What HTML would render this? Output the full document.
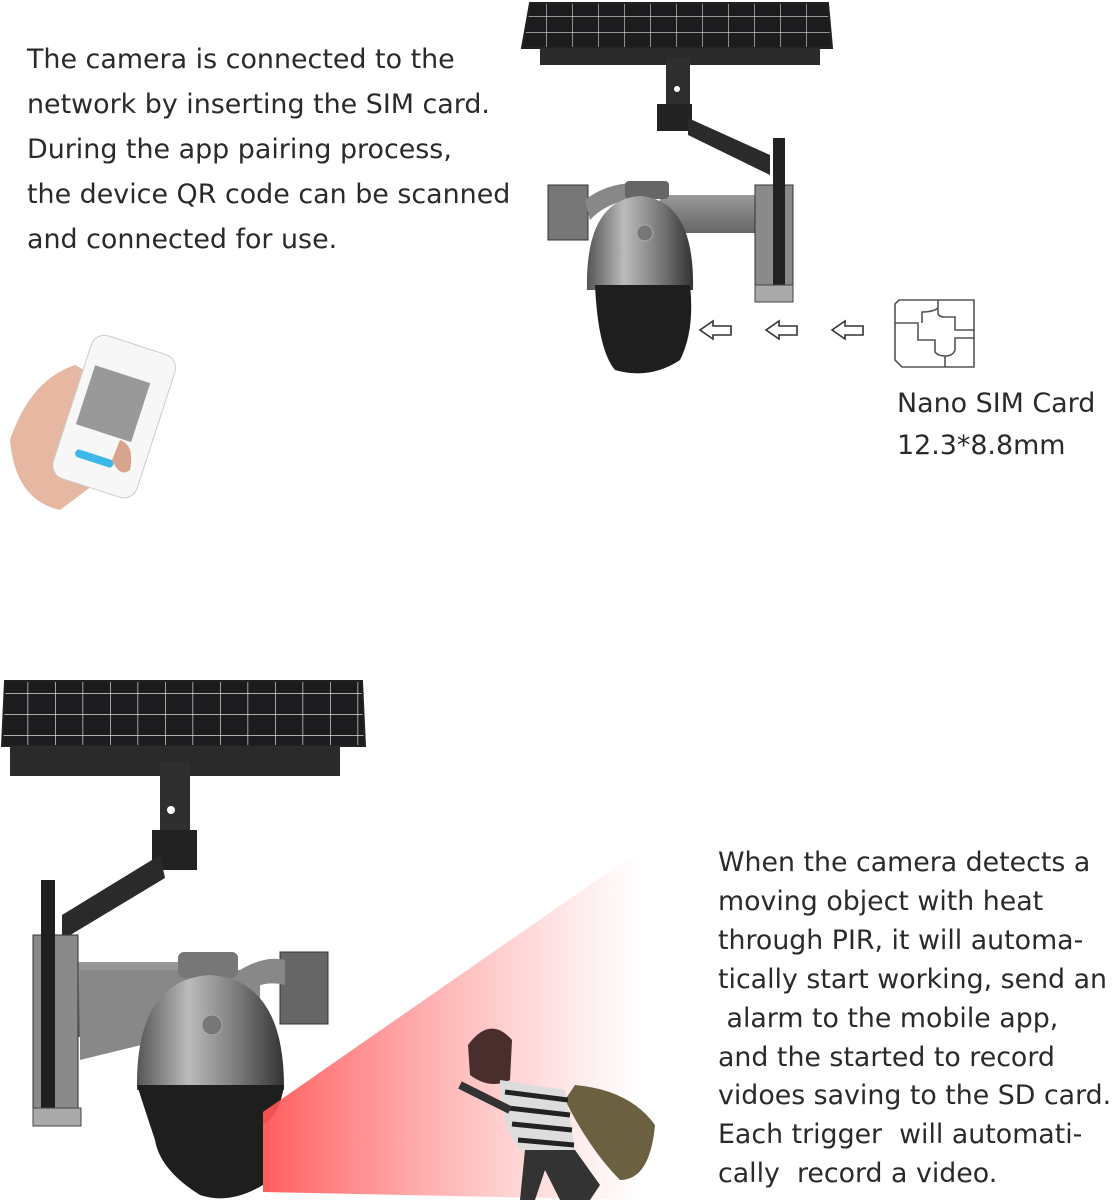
<!DOCTYPE html>
<html><head><meta charset="utf-8"><style>
body{margin:0;background:#fff;}
.w{position:relative;width:1114px;height:1200px;overflow:hidden;font-family:"DejaVu Sans","Liberation Sans",sans-serif;color:#2a2a2a;}
.t{position:absolute;font-size:26.9px;line-height:45px;white-space:nowrap;}
.t2{position:absolute;font-size:26.8px;line-height:38.9px;white-space:pre;}
svg{position:absolute;left:0;top:0;}
</style></head><body><div class="w">
<svg width="1114" height="1200" viewBox="0 0 1114 1200">
<defs>
<linearGradient id="red" x1="0" x2="1" y1="0" y2="0">
<stop offset="0" stop-color="#f55" stop-opacity="0.95"/>
<stop offset="1" stop-color="#f88" stop-opacity="0"/>
</linearGradient>
<linearGradient id="sil" x1="0" x2="1">
<stop offset="0" stop-color="#555"/><stop offset="0.35" stop-color="#bbb"/><stop offset="0.7" stop-color="#777"/><stop offset="1" stop-color="#333"/>
</linearGradient>
<linearGradient id="gr" x1="0" x2="0" y1="0" y2="1"><stop offset="0" stop-color="#999"/><stop offset="1" stop-color="#666"/></linearGradient>
<pattern id="cells" width="27.5" height="21" patternUnits="userSpaceOnUse"><rect width="27.5" height="21" fill="#1c1c1e"/><path d="M0 0V21M0 0H27.5" stroke="#ddd" stroke-width="1.4"/></pattern>
<pattern id="cells2" width="26" height="16" patternUnits="userSpaceOnUse"><rect width="26" height="16" fill="#1c1c1e"/><path d="M0 0V16M0 0H26" stroke="#ddd" stroke-width="1.2"/></pattern>
</defs>

<!-- TOP CAMERA -->
<polygon points="530,3 828,3 832,48 522,48" fill="url(#cells2)" stroke="#222" stroke-width="2"/>
<rect x="540" y="48" width="280" height="17" fill="#2a2a2a"/>
<rect x="666" y="58" width="24" height="50" fill="#2e2e2e"/><circle cx="677" cy="89" r="3" fill="#fff"/>
<rect x="657" y="104" width="35" height="27" fill="#222"/>
<polygon points="688,118 770,155 770,175 688,135" fill="#2a2a2a"/>
<rect x="660" y="195" width="100" height="38" fill="url(#gr)"/>
<rect x="755" y="185" width="38" height="115" fill="#8a8a8a" stroke="#333"/>
<rect x="773" y="138" width="12" height="152" fill="#222"/>
<rect x="755" y="285" width="38" height="17" fill="#aaa" stroke="#444"/>
<rect x="548" y="185" width="40" height="55" fill="#777" stroke="#333"/>
<path d="M585 200 Q610 180 650 183 L650 198 Q610 198 590 220Z" fill="#888"/>
<rect x="625" y="181" width="44" height="18" rx="4" fill="#666"/>
<path d="M587 290 Q585 200 640 196 Q695 200 693 290Z" fill="url(#sil)"/>
<circle cx="645" cy="233" r="8" fill="#777" stroke="#aaa"/>
<path d="M595 285 H690 Q695 330 680 360 Q650 380 615 370 Q598 350 595 285Z" fill="#1e1e1e"/>
<!-- arrows -->
<g fill="#fff" stroke="#333" stroke-width="1.6">
<path d="M700 330 L713 321 V326 H731 V335 H713 V339Z"/>
<path d="M766 330 L779 321 V326 H797 V335 H779 V339Z"/>
<path d="M832 330 L845 321 V326 H863 V335 H845 V339Z"/>
</g>
<!-- SIM -->
<g fill="none" stroke="#555" stroke-width="1.6">
<path d="M899 300 H974 V367 H902 L895 360 V304Z"/>
<path d="M895 323 H918 V340 H935 V352 Q938 356 945 356 V367 M945 356 Q953 356 955 350 V338 H974 M938 300 V312 Q938 317 944 317 H955 V330 H974 M938 300 V308 Q933 312 922 312 V323"/>
</g>
<!-- phone -->
<path d="M10 440 Q30 380 75 365 L140 400 L150 440 Q140 470 100 480 L60 510 Q15 500 10 440Z" fill="#e6b8a2"/>
<g transform="rotate(18 110 410)">
<rect x="72" y="340" width="88" height="150" rx="14" fill="#f7f7f7" stroke="#ccc"/>
<rect x="82" y="372" width="58" height="62" fill="#999"/>
<rect x="90" y="457" width="40" height="8" rx="4" fill="#3bb8e8"/>
</g>
<path d="M120 440 Q135 445 130 470 Q120 478 112 460Z" fill="#d9a48d"/>

<!-- BOTTOM CAMERA -->
<polygon points="5,681 362,681 365,746 2,746" fill="url(#cells)" stroke="#222" stroke-width="2"/>
<rect x="10" y="746" width="330" height="30" fill="#2a2a2a"/>
<rect x="160" y="762" width="30" height="75" fill="#2e2e2e"/><circle cx="171" cy="810" r="4" fill="#fff"/>
<rect x="152" y="830" width="45" height="40" fill="#222"/>
<polygon points="160,855 62,915 62,940 165,878" fill="#2a2a2a"/>
<rect x="60" y="962" width="130" height="75" fill="url(#gr)"/>
<path d="M80 970 H260 V1020 Q200 1030 80 1060Z" fill="#888"/>
<rect x="33" y="935" width="45" height="190" fill="#8a8a8a" stroke="#333"/>
<rect x="41" y="880" width="14" height="235" fill="#1f1f1f"/>
<rect x="33" y="1108" width="48" height="18" fill="#aaa" stroke="#444"/>
<rect x="280" y="952" width="48" height="72" fill="#666" stroke="#333"/>
<path d="M240 970 Q265 955 285 960 L285 985 Q265 980 250 990Z" fill="#888"/>
<rect x="178" y="952" width="60" height="26" rx="6" fill="#777"/>
<path d="M137 1090 Q135 980 210 975 Q285 980 284 1090Z" fill="url(#sil)"/>
<circle cx="212" cy="1025" r="10" fill="#777" stroke="#aaa"/>
<path d="M137 1085 H284 Q280 1115 263 1125 V1185 Q230 1205 200 1195 Q160 1170 155 1140 Q145 1110 137 1085Z" fill="#1e1e1e"/>
<!-- red cone -->
<polygon points="263,1112 640,850 640,1200 263,1192" fill="url(#red)"/>
<!-- thief -->
<path d="M575 1085 Q630 1090 655 1125 Q650 1180 620 1180 Q590 1150 565 1100Z" fill="#6b6140"/>
<path d="M468 1045 Q490 1015 512 1040 L510 1080 Q490 1090 470 1075Z" fill="#4a2e2e"/>
<path d="M500 1080 L565 1090 L575 1150 L525 1155 Q500 1130 500 1080Z" fill="#ddd"/>
<g stroke="#222" stroke-width="5"><path d="M505 1092 L568 1100 M508 1108 L570 1115 M512 1124 L572 1130 M518 1140 L574 1145"/></g>
<path d="M525 1150 L575 1150 L600 1185 L590 1200 L560 1200 L545 1170 L535 1200 L520 1200Z" fill="#333"/>
<path d="M460 1085 L510 1110" stroke="#333" stroke-width="8"/>
</svg>

<div class="t" style="left:27px;top:37px">The camera is connected to the<br>network by inserting the SIM card.<br>During the app pairing process,<br>the device QR code can be scanned<br>and connected for use.</div>
<div class="t" style="left:897px;top:383px;line-height:42px">Nano SIM Card<br>12.3*8.8mm</div>
<div class="t2" style="left:718px;top:844px">When the camera detects a
moving object with heat
through PIR, it will automa-
tically start working, send an
 alarm to the mobile app,
and the started to record
vidoes saving to the SD card.
Each trigger  will automati-
cally  record a video.</div>
</div></body></html>
